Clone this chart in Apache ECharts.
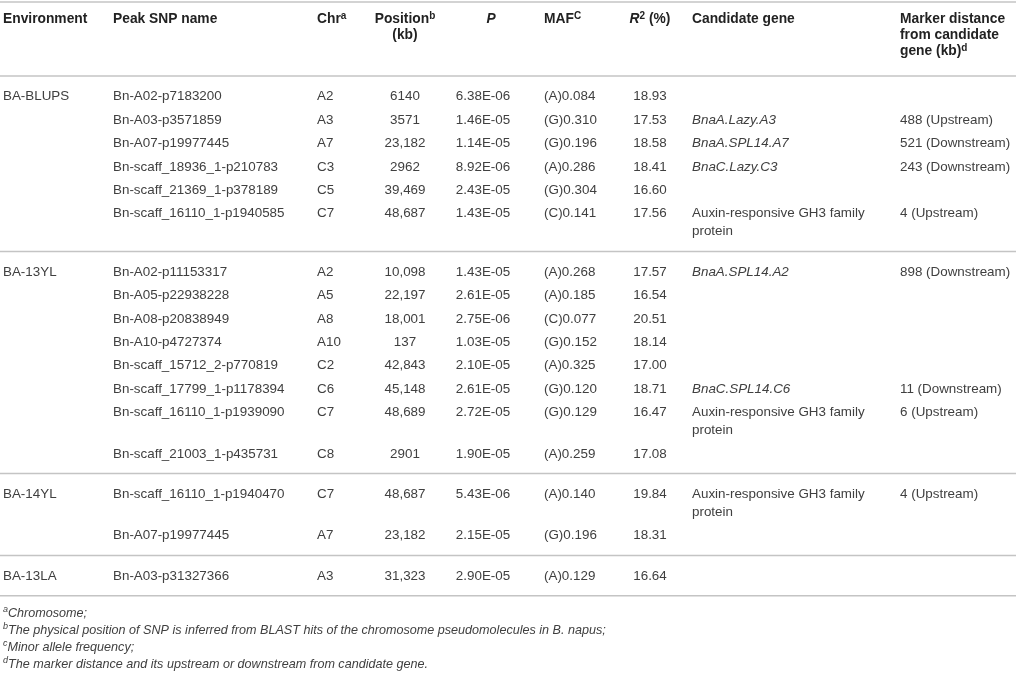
<!DOCTYPE html>
<html><head><meta charset="utf-8">
<script src="https://cdn.jsdelivr.net/npm/echarts@6/dist/echarts.min.js"></script>
<style>html,body{margin:0;padding:0;background:#fff}#c{width:1016px;height:674px}</style>
</head><body><div id="c"></div>
<script>
// ---- table data ----
var headers = ["Environment","Peak SNP name","Chr{s|a}","Position{s|b}\n(kb)","{i|P}","MAF{s|C}","{i|R}{s|2} (%)","Candidate gene","Marker distance\nfrom candidate\ngene (kb){s|d}"];
var environment = ["BA-BLUPS","","","","","","BA-13YL","","","","","","","","BA-14YL","","BA-13LA"];
var snpName = ["Bn-A02-p7183200","Bn-A03-p3571859","Bn-A07-p19977445","Bn-scaff_18936_1-p210783","Bn-scaff_21369_1-p378189","Bn-scaff_16110_1-p1940585",
  "Bn-A02-p11153317","Bn-A05-p22938228","Bn-A08-p20838949","Bn-A10-p4727374","Bn-scaff_15712_2-p770819","Bn-scaff_17799_1-p1178394","Bn-scaff_16110_1-p1939090","Bn-scaff_21003_1-p435731",
  "Bn-scaff_16110_1-p1940470","Bn-A07-p19977445","Bn-A03-p31327366"];
var chromosome = ["A2","A3","A7","C3","C5","C7","A2","A5","A8","A10","C2","C6","C7","C8","C7","A7","A3"];
var positionKb = ["6140","3571","23,182","2962","39,469","48,687","10,098","22,197","18,001","137","42,843","45,148","48,689","2901","48,687","23,182","31,323"];
var pValue = ["6.38E-06","1.46E-05","1.14E-05","8.92E-06","2.43E-05","1.43E-05","1.43E-05","2.61E-05","2.75E-06","1.03E-05","2.10E-05","2.61E-05","2.72E-05","1.90E-05","5.43E-06","2.15E-05","2.90E-05"];
var maf = ["(A)0.084","(G)0.310","(G)0.196","(A)0.286","(G)0.304","(C)0.141","(A)0.268","(A)0.185","(C)0.077","(G)0.152","(A)0.325","(G)0.120","(G)0.129","(A)0.259","(A)0.140","(G)0.196","(A)0.129"];
var r2 = ["18.93","17.53","18.58","18.41","16.60","17.56","17.57","16.54","20.51","18.14","17.00","18.71","16.47","17.08","19.84","18.31","16.64"];
var candidateGene = ["","BnaA.Lazy.A3","BnaA.SPL14.A7","BnaC.Lazy.C3","","Auxin-responsive GH3 family\nprotein",
  "BnaA.SPL14.A2","","","","","BnaC.SPL14.C6","Auxin-responsive GH3 family\nprotein","",
  "Auxin-responsive GH3 family\nprotein","",""];
var markerDistance = ["","488 (Upstream)","521 (Downstream)","243 (Downstream)","","4 (Upstream)",
  "898 (Downstream)","","","","","11 (Downstream)","6 (Upstream)","",
  "4 (Upstream)","",""];
var footnotes = ["{s|a}Chromosome;","{s|b}The physical position of SNP is inferred from BLAST hits of the chromosome pseudomolecules in B. napus;","{s|c}Minor allele frequency;","{s|d}The marker distance and its upstream or downstream from candidate gene."];

// ---- layout ----
var FONT = '"Liberation Sans", Arial, Helvetica, sans-serif';
var columns = [
  {data: environment, x: 3, align: 'left'},
  {data: snpName, x: 113, align: 'left'},
  {data: chromosome, x: 317, align: 'left'},
  {data: positionKb, x: 405, align: 'center'},
  {data: pValue, x: 483, hx: 491, align: 'center'},
  {data: maf, x: 544, align: 'left'},
  {data: r2, x: 650, align: 'center'},
  {data: candidateGene, x: 692, align: 'left', italicIf: /^Bna/},
  {data: markerDistance, x: 900, align: 'left'}
];
var L = {topLine: 2, headerTop: 11, headerLine: 76, padTop: 20.8, pitch: 23.4, wrap: 18, padBottom: 19.6, footTop: 613, footPitch: 17, width: 1016, height: 674};

var cells = [], rules = [L.topLine, L.headerLine];
columns.forEach(function (c, ci) {
  cells.push({value: [c.hx || c.x, L.headerTop], text: headers[ci], align: c.align, kind: 'head'});
});
var y = L.headerLine;
for (var r = 0; r < snpName.length; r++) {
  var lines = 1;
  columns.forEach(function (c) { var n = (c.data[r] || '').split('\n').length; if (n > lines) lines = n; });
  if (environment[r] !== '') { if (r > 0) { y += L.padBottom; rules.push(y); } y += L.padTop; }
  else { y += L.pitch; }
  columns.forEach(function (c) {
    var t = c.data[r];
    if (t) cells.push({value: [c.x, y], text: t, align: c.align, kind: (c.italicIf && c.italicIf.test(t)) ? 'it' : 'body'});
  });
  y += (lines - 1) * L.wrap;
}
y += L.padBottom; rules.push(y);
footnotes.forEach(function (f, i) { cells.push({value: [3, L.footTop + i * L.footPitch], text: f, align: 'left', kind: 'foot'}); });

var styles = {
  head: {fontSize: 13.8, fontWeight: 'bold', fill: '#222', lineHeight: 16, verticalAlign: 'top', sup: 10},
  body: {fontSize: 13.4, fontWeight: 'normal', fill: '#404040', lineHeight: 18, verticalAlign: 'top', dy: -9, sup: 9},
  it: {fontSize: 13.4, fontWeight: 'normal', fontStyle: 'italic', fill: '#404040', lineHeight: 18, verticalAlign: 'top', dy: -9, sup: 9},
  foot: {fontSize: 12.6, fontWeight: 'normal', fontStyle: 'italic', fill: '#404040', lineHeight: 16, verticalAlign: 'middle', sup: 9}
};
var rich = {
  s: {fontSize: 9, verticalAlign: 'top', lineHeight: 10, fontFamily: FONT},
  i: {fontStyle: 'italic', fontWeight: 'bold', fontSize: 13.8, fontFamily: FONT}
};

var chart = echarts.init(document.getElementById('c'), null, {renderer: 'canvas'});
chart.setOption({
  animation: false,
  grid: {left: 0, right: 0, top: 0, bottom: 0},
  xAxis: {type: 'value', min: 0, max: L.width, show: false},
  yAxis: {type: 'value', min: 0, max: L.height, inverse: true, show: false},
  series: [
    {
      type: 'custom', silent: true,
      data: rules.map(function (v) { return [0, v]; }),
      renderItem: function (params, api) {
        var a = api.coord([0, api.value(1)]), b = api.coord([L.width, api.value(1)]);
        return {type: 'line', shape: {x1: a[0], y1: a[1], x2: b[0], y2: b[1]}, style: {stroke: '#c4c4c4', lineWidth: 1.5}};
      }
    },
    {
      type: 'custom', silent: true,
      data: cells,
      renderItem: function (params, api) {
        var d = cells[params.dataIndex];
        var st = styles[d.kind];
        var p = api.coord([api.value(0), api.value(1)]);
        var richS = JSON.parse(JSON.stringify(rich));
        richS.s.fontSize = st.sup;
        richS.s.fontWeight = st.fontWeight; richS.s.fontStyle = st.fontStyle || 'normal'; richS.s.fill = st.fill;
        richS.i.fill = st.fill;
        return {
          type: 'text', x: p[0], y: p[1] + (st.dy || 0),
          style: {
            text: d.text, fontFamily: FONT, fontSize: st.fontSize, fontWeight: st.fontWeight,
            fontStyle: st.fontStyle || 'normal', fill: st.fill, lineHeight: st.lineHeight,
            align: d.align, verticalAlign: st.verticalAlign, rich: richS
          }
        };
      }
    }
  ]
});
</script></body></html>
